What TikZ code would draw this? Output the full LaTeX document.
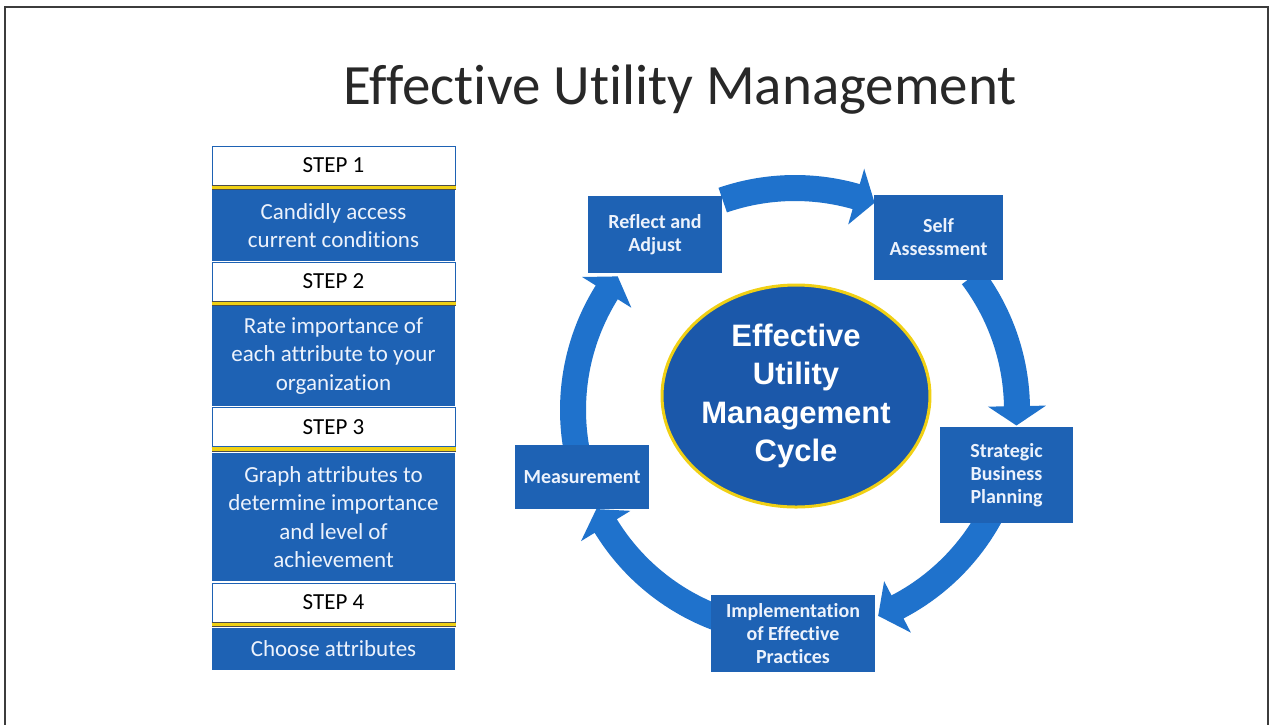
\documentclass[tikz,border=0pt]{standalone}
\usepackage{fontspec}
\setmainfont{Carlito}[Ligatures=NoCommon]
\newfontfamily\arialfont{Liberation Sans}
\usetikzlibrary{shapes.geometric}
\definecolor{boxblue}{RGB}{30,98,180}
\definecolor{arrowblue}{RGB}{31,114,204}
\definecolor{ellblue}{RGB}{27,88,170}
\definecolor{yel}{RGB}{240,208,20}
\definecolor{txtw}{RGB}{236,242,252}
\definecolor{framegray}{RGB}{60,60,60}
\definecolor{titlegray}{RGB}{40,40,40}
\newcommand{\cycarrow}[3]{%
  \fill[arrowblue] plot[domain=#1:#2,samples=40,variable=\t] (\t:235)
    -- (#2:251) -- (#3:222) -- (#2:193)
    -- plot[domain=#2:#1,samples=40,variable=\t] (\t:209) -- cycle;}
\newcommand{\yband}[1]{%
  \draw[yedge] ([yshift=-2pt]#1.south west) -- ([yshift=-2pt]#1.south east);
  \draw[yline] ([yshift=-2pt]#1.south west) -- ([yshift=-2pt]#1.south east);}
\begin{document}
\begin{tikzpicture}[x=1pt,y=-1pt,
  stepbox/.style={draw=boxblue, line width=1pt, fill=white, minimum width=243pt,
    minimum height=39pt, inner sep=0pt, text=black, font=\fontsize{23}{27}\selectfont},
  descbox/.style={fill=boxblue, minimum width=243pt, inner sep=0pt, text=txtw,
    align=center, font=\fontsize{23}{28.5}\selectfont},
  cycbox/.style={fill=boxblue, inner sep=0pt, text=txtw, align=center,
    font=\bfseries\fontsize{20}{23}\selectfont},
  yline/.style={draw=yel, line width=3.6pt},
  yedge/.style={draw=black!70, line width=5pt},
]
\useasboundingbox (0,0) rectangle (1273,724);
\fill[white] (0,0) rectangle (1273,724);
\draw[framegray, line width=2pt] (5,726) -- (5,7) -- (1268,7) -- (1268,726);

% title
\node[anchor=base, text=titlegray, font=\fontsize{57}{60}\selectfont] (title) at (680,104) {Effective Utility Management};

% left column
\node[stepbox] (s1) at (333.5,165.5) {STEP 1};
\yband{s1}
\node[descbox, minimum height=71pt] (d1) at (333.5,225.5) {Candidly access\\current conditions};

\node[stepbox] (s2) at (333.5,281.5) {STEP 2};
\yband{s2}
\node[descbox, minimum height=100pt] (d2) at (333.5,356) {Rate importance of\\each attribute to your\\organization};

\node[stepbox] (s3) at (333.5,427) {STEP 3};
\yband{s3}
\node[descbox, minimum height=128pt] (d3) at (333.5,517) {Graph attributes to\\determine importance\\and level of\\achievement};

\node[stepbox] (s4) at (333.5,602.5) {STEP 4};
\yband{s4}
\node[descbox, minimum height=42pt] (d4) at (333.5,649) {Choose attributes};

% cycle arrows
\begin{scope}[shift={(795,410)}]
  \cycarrow{251}{286}{291}
  \cycarrow{323}{359}{364}
  \cycarrow{28}{62.5}{68}
  \cycarrow{108}{148.5}{153.5}
  \cycarrow{168}{212}{217}
\end{scope}

% cycle boxes
\node[cycbox, minimum width=134pt, minimum height=77pt] (reflect) at (655,234.5) {Reflect and\\Adjust};
\node[cycbox, minimum width=129pt, minimum height=85pt] (self) at (938.5,237.5) {Self\\Assessment};
\node[cycbox, minimum width=133pt, minimum height=96pt] (strategic) at (1006.5,475) {Strategic\\Business\\Planning};
\node[cycbox, minimum width=164pt, minimum height=77pt] (impl) at (793,633.5) {Implementation\\of Effective\\Practices};
\node[cycbox, minimum width=134pt, minimum height=64pt] (measure) at (582,477) {Measurement};

% center ellipse
\node[ellipse, fill=ellblue, draw=yel, line width=3pt, minimum width=267pt, minimum height=222pt,
  inner sep=0pt, text=white, align=center,
  font=\arialfont\bfseries\fontsize{31}{38.5}\selectfont] (core) at (796,396)
  {Effective\\Utility\\Management\\Cycle};
\end{tikzpicture}
\end{document}
